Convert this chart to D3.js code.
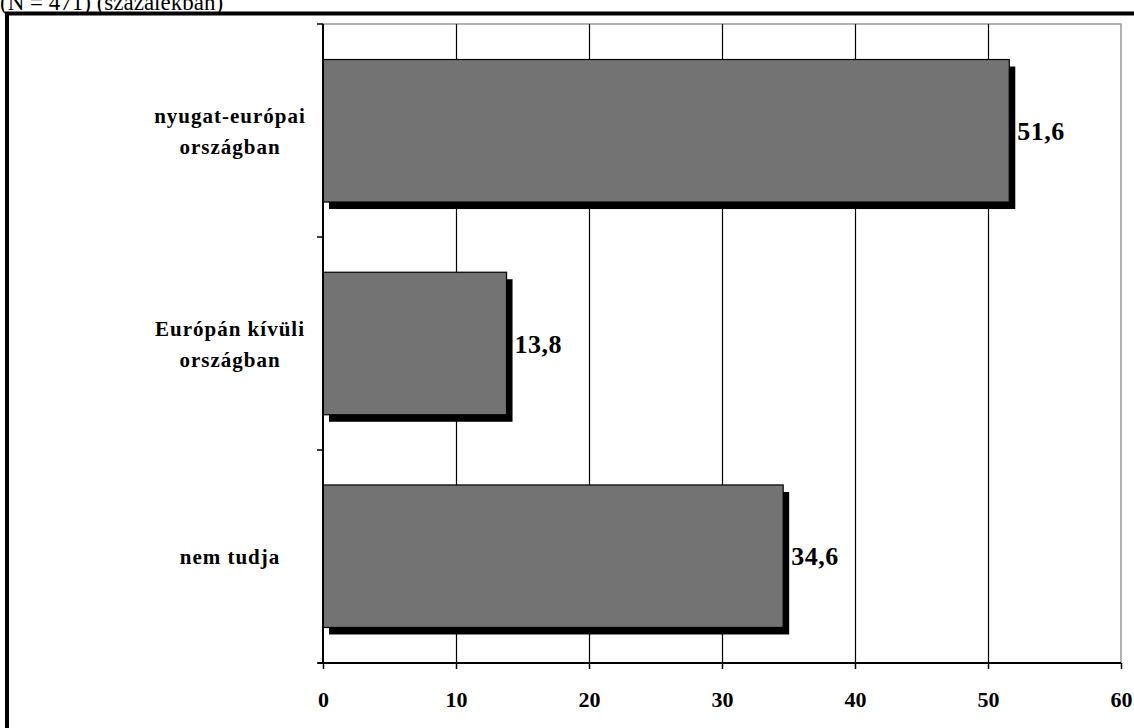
<!DOCTYPE html>
<html><head><meta charset="utf-8">
<script src="https://cdn.jsdelivr.net/npm/d3@7"></script>
<style>body{margin:0;background:#fff;}svg{display:block;}</style>
</head><body>
<svg id="c" width="1134" height="728"></svg>
<script>
const categories = ["nyugat-európai|országban", "Európán kívüli|országban", "nem tudja"];
const values = [51.6, 13.8, 34.6];
const valueLabels = ["51,6", "13,8", "34,6"];
const tickValues = [0, 10, 20, 30, 40, 50, 60];
const title = "(N = 471) (százalékban)";

const svg = d3.select("#c");
const font = "'Liberation Serif','Times New Roman',serif";
const L = 323, R = 1121, T = 24, B = 663;
const x = d3.scaleLinear().domain([0, 60]).range([L, R]);
const y = d3.scaleBand().domain(categories).range([T, B]).paddingInner(0.33).paddingOuter(0.167);

svg.append("text").attr("x", 0).attr("y", 9.5).attr("font-family", font).attr("font-size", 23).text(title);
// outer frame
svg.append("rect").attr("x", 7).attr("y", 13.5).attr("width", 1140).attr("height", 730)
  .attr("fill", "none").attr("stroke", "#000").attr("stroke-width", 4);
// plot border
svg.append("rect").attr("x", L).attr("y", T).attr("width", R - L).attr("height", B - T)
  .attr("fill", "none").attr("stroke", "#999").attr("stroke-width", 1.5);
// gridlines
svg.append("g").selectAll("line").data(tickValues.filter(d => d > 0 && d < 60)).join("line")
  .attr("x1", d => x(d) + 0.5).attr("x2", d => x(d) + 0.5).attr("y1", T).attr("y2", B)
  .attr("stroke", "#000").attr("stroke-width", 1.2);
// shadows
const g = svg.append("g");
g.selectAll("rect.sh").data(values).join("rect").attr("class", "sh")
  .attr("x", x(0) + 6).attr("y", (d, i) => y(categories[i]) + 7)
  .attr("width", d => x(d) - x(0)).attr("height", y.bandwidth()).attr("fill", "#000");
g.selectAll("rect.bar").data(values).join("rect").attr("class", "bar")
  .attr("x", x(0)).attr("y", (d, i) => y(categories[i]))
  .attr("width", d => x(d) - x(0)).attr("height", y.bandwidth())
  .attr("fill", "#737373").attr("stroke", "#000").attr("stroke-width", 1.2);
// value labels
g.selectAll("text.v").data(values).join("text").attr("class", "v")
  .attr("x", d => x(d) + 8).attr("y", (d, i) => y(categories[i]) + y.bandwidth() / 2 + 9)
  .attr("font-family", font).attr("font-weight", "bold").attr("font-size", 26).attr("letter-spacing", 0.5)
  .text((d, i) => valueLabels[i]);
// x axis
const xa = svg.append("g").attr("transform", `translate(0,${B})`)
  .call(d3.axisBottom(x).tickValues(tickValues).tickSize(6).tickPadding(22).tickFormat(d3.format("d")));
xa.select(".domain").attr("stroke-width", 2).attr("d", `M${L - 5},0H${R}`);
xa.selectAll(".tick line").attr("stroke-width", 1.5);
xa.selectAll("text").attr("font-family", font).attr("font-weight", "bold").attr("font-size", 22).attr("fill", "#000");
// y axis line & ticks at band boundaries
svg.append("line").attr("x1", L).attr("x2", L).attr("y1", T).attr("y2", B).attr("stroke", "#000").attr("stroke-width", 2);
const step = (B - T) / categories.length;
svg.append("g").selectAll("line").data(d3.range(categories.length + 1)).join("line")
  .attr("x1", L - 6).attr("x2", L).attr("y1", i => T + i * step).attr("y2", i => T + i * step)
  .attr("stroke", "#000").attr("stroke-width", 1.5);
// category labels
const cl = svg.append("g");
categories.forEach((c, i) => {
  const lines = c.split("|");
  const cy = y(c) + y.bandwidth() / 2;
  const t = cl.append("text").attr("x", 230).attr("text-anchor", "middle")
    .attr("font-family", font).attr("font-weight", "bold").attr("font-size", 21).attr("letter-spacing", 1);
  lines.forEach((ln, j) => {
    t.append("tspan").attr("x", 230).attr("y", cy + 8 + (j - (lines.length - 1) / 2) * 31).text(ln);
  });
});
</script>
</body></html>
